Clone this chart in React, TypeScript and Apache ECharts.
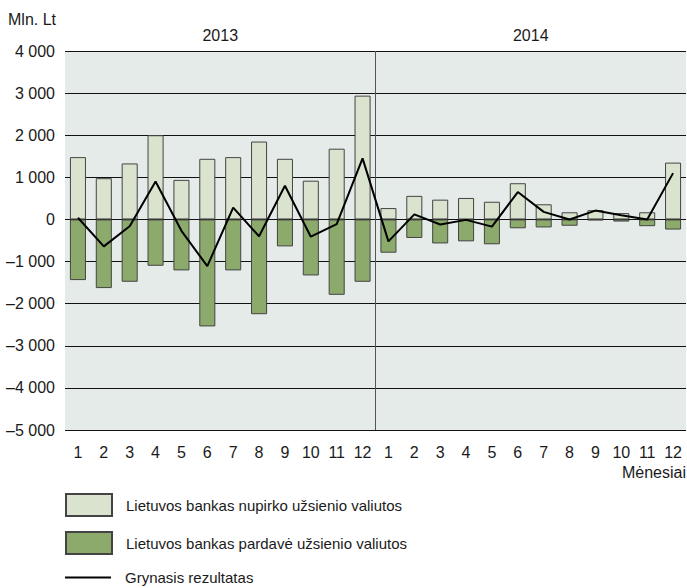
import React, { useEffect, useRef } from "react";
import * as echarts from "echarts";

const months = ["1", "2", "3", "4", "5", "6", "7", "8", "9", "10", "11", "12", "1", "2", "3", "4", "5", "6", "7", "8", "9", "10", "11", "12"];
const years = ["2013", "2014"];
const bought = [1480, 980, 1330, 2000, 940, 1440, 1480, 1850, 1440, 920, 1680, 2940, 270, 560, 470, 510, 420, 860, 360, 170, 220, 150, 170, 1350];
const sold = [-1440, -1630, -1480, -1100, -1210, -2540, -1210, -2250, -640, -1330, -1790, -1480, -790, -440, -570, -520, -590, -210, -190, -150, -20, -50, -160, -240];
const net = [40, -640, -160, 900, -270, -1110, 280, -400, 800, -410, -110, 1450, -520, 120, -120, -10, -170, 650, 180, 0, 210, 100, 0, 1100];
const seriesNames = [
  "Lietuvos bankas nupirko užsienio valiutos",
  "Lietuvos bankas pardavė užsienio valiutos",
  "Grynasis rezultatas",
];
const yUnit = "Mln. Lt";
const xName = "Mėnesiai";

const FONT = '"Liberation Sans", Arial, sans-serif';
const TXT = "#1a1a1a";

function fmt(v: number): string {
  const a = Math.abs(v);
  const s = a >= 1000 ? Math.floor(a / 1000) + " " + String(a % 1000).padStart(3, "0") : String(a);
  return (v < 0 ? "\u2013" : "") + s;
}

export default function App() {
  const ref = useRef<HTMLDivElement>(null);
  useEffect(() => {
    if (!ref.current) return;
    const chart = echarts.init(ref.current, undefined, { renderer: "svg" });
    const n = months.length;
    const legendText = { color: TXT, fontSize: 15, fontFamily: FONT, padding: [0, 0, 0, 9] };
    chart.setOption({
      animation: false,
      backgroundColor: "#ffffff",
      textStyle: { fontFamily: FONT },
      grid: {
        left: 65,
        right: 1,
        top: 51,
        bottom: 158,
        show: true,
        backgroundColor: "#e5ebe8",
        borderWidth: 0,
      },
      xAxis: [
        {
          type: "category",
          data: months,
          position: "bottom",
          boundaryGap: true,
          axisLine: { show: false },
          axisTick: { show: false },
          axisLabel: { color: TXT, fontSize: 16, fontFamily: FONT, margin: 14, interval: 0 },
          splitLine: { show: false },
        },
        {
          type: "value",
          position: "top",
          min: 0,
          max: n,
          axisLine: { show: false },
          axisTick: {
            show: true,
            inside: true,
            length: 379,
            customValues: [n / 2],
            lineStyle: { color: "#555555", width: 1 },
          },
          axisLabel: {
            show: true,
            customValues: [n / 4, (3 * n) / 4],
            formatter: (v: number) => (v < n / 2 ? years[0] : years[1]),
            color: TXT,
            fontSize: 16,
            fontFamily: FONT,
            margin: 8,
          },
          splitLine: { show: false },
        },
      ],
      yAxis: {
        type: "value",
        min: -5000,
        max: 4000,
        interval: 1000,
        axisLine: { show: false },
        axisTick: { show: false },
        axisLabel: {
          color: TXT,
          fontSize: 16,
          fontFamily: FONT,
          margin: 10,
          formatter: (v: number) => fmt(v),
        },
        splitLine: { show: true, lineStyle: { color: "#111111", width: 1 } },
      },
      legend: [
        {
          left: 65,
          top: 493,
          padding: 0,
          itemWidth: 46,
          itemHeight: 22,
          textStyle: legendText,
          data: [{ name: seriesNames[0], icon: "rect" }],
        },
        {
          left: 65,
          top: 531,
          padding: 0,
          itemWidth: 46,
          itemHeight: 22,
          textStyle: legendText,
          data: [{ name: seriesNames[1], icon: "rect" }],
        },
        {
          left: 65,
          top: 570,
          padding: 0,
          itemWidth: 46,
          itemHeight: 2,
          textStyle: legendText,
          itemStyle: { color: "#000000", borderWidth: 0 },
          data: [{ name: seriesNames[2], icon: "rect" }],
        },
      ],
      graphic: [
        {
          type: "text",
          left: 8,
          top: 11,
          style: { text: yUnit, font: `16px ${FONT}`, fill: TXT },
        },
        {
          type: "text",
          right: 1,
          top: 464,
          style: { text: xName, font: `16px ${FONT}`, fill: TXT },
        },
      ],
      series: [
        {
          name: seriesNames[0],
          type: "bar",
          stack: "fx",
          barWidth: "62%",
          data: bought,
          itemStyle: { color: "#d9e3cd", borderColor: "#444444", borderWidth: 1 },
        },
        {
          name: seriesNames[1],
          type: "bar",
          stack: "fx",
          barWidth: "62%",
          data: sold,
          itemStyle: { color: "#8caa6c", borderColor: "#444444", borderWidth: 1 },
        },
        {
          name: seriesNames[2],
          type: "line",
          data: net,
          symbol: "none",
          z: 5,
          lineStyle: { color: "#000000", width: 2 },
          itemStyle: { color: "#000000" },
        },
      ],
    });
    return () => chart.dispose();
  }, []);
  return <div ref={ref} style={{ position: "fixed", left: 0, top: 0, width: 687, height: 588 }} />;
}
